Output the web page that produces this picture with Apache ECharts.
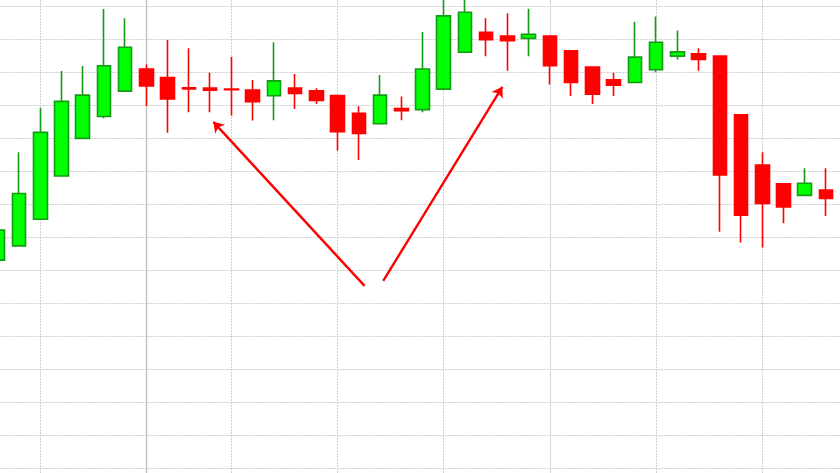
<!DOCTYPE html>
<html>
<head>
<meta charset="utf-8">
<script src="https://cdn.jsdelivr.net/npm/echarts@6/dist/echarts.min.js"></script>
<style>html,body{margin:0;padding:0;background:#fff}#c{width:840px;height:473px}</style>
</head>
<body>
<div id="c"></div>
<script>
// Categories (trading days; the last one is an empty slot at the right edge)
const categories = ['1','2','3','4','5','6','7','8','9','10','11','12','13','14','15','16','17','18','19','20',
  '21','22','23','24','25','26','27','28','29','30','31','32','33','34','35','36','37','38','39','40','41'];

// OHLC values
const openVals  = [63.0, 67.3, 75.4, 88.5, 99.9, 106.5, 114.2, 120.9, 118.3, 115.2, 115.1, 114.8, 114.5, 112.8, 115.1, 114.3, 112.9, 107.5, 104.3, 108.9,
                   108.6, 114.8, 126.0, 132.0, 130.9, 130.2, 130.9, 126.4, 121.5, 117.6, 116.8, 120.7, 124.8, 125.5, 124.8, 107.0, 91.8, 86.1, 82.6, 84.2];
const closeVals = [72.1, 83.2, 101.7, 111.1, 113.0, 121.9, 127.5, 115.8, 111.8, 114.9, 114.5, 114.6, 111.0, 117.3, 113.5, 111.4, 101.9, 101.4, 113.0, 108.3,
                   120.9, 137.0, 138.1, 129.8, 129.5, 131.4, 121.9, 116.8, 113.3, 116.0, 124.5, 129.0, 126.1, 123.8, 88.8, 76.6, 80.2, 79.1, 86.3, 81.7];
const lowVals   = [62.4, 67.3, 75.4, 88.5, 99.9, 106.0, 114.2, 109.7, 101.6, 107.8, 107.8, 106.8, 105.3, 105.4, 108.8, 110.3, 96.2, 93.3, 104.3, 105.4,
                   107.8, 114.8, 126.0, 124.8, 120.4, 124.8, 116.2, 112.7, 110.3, 112.7, 116.8, 119.9, 123.8, 120.4, 71.6, 68.3, 66.8, 74.2, 82.6, 76.4];
const highVals  = [73.3, 95.7, 109.2, 120.3, 121.8, 139.1, 136.3, 122.3, 129.7, 127.2, 119.8, 124.6, 117.6, 129.0, 119.4, 115.1, 112.9, 109.6, 119.1, 112.6,
                   132.1, 143.3, 143.3, 136.3, 137.8, 139.2, 130.9, 126.4, 121.5, 119.8, 135.2, 136.8, 132.6, 127.2, 124.8, 107.0, 95.7, 86.1, 90.8, 90.8];

// Vertical grid lines: week starts (dashed) and month starts (solid)
const weekStarts  = [2, 11, 16, 21, 31, 36];
const monthStarts = [7, 26];

// Annotation arrows in data space [category index, price]
const arrows = [
  [[17.27, 55.2], [10.15, 104.9]],
  [[18.15, 56.7], [23.76, 115.5]]
];

const ohlc = openVals.map((o, i) => [o, closeVals[i], lowVals[i], highVals[i]]);

const chart = echarts.init(document.getElementById('c'), null, {renderer: 'canvas'});
const hidden = {axisLine: {show: false}, axisTick: {show: false}, axisLabel: {show: false}};
chart.setOption({
  animation: false,
  backgroundColor: '#ffffff',
  grid: {left: -2.2, right: -7.2, top: -27, bottom: -28, containLabel: false, outerBoundsMode: 'none'},
  xAxis: [
    Object.assign({type: 'category', data: categories, boundaryGap: false,
      splitLine: {show: true, interval: (i) => weekStarts.includes(i),
        lineStyle: {color: '#cfcfcf', type: [2, 1], width: 1}}}, hidden),
    Object.assign({type: 'category', data: categories, boundaryGap: false,
      splitLine: {show: true, interval: (i) => monthStarts.includes(i),
        lineStyle: {color: ['#bdbdbd', '#dddddd'], type: 'solid', width: 1.3}}}, hidden),
    Object.assign({type: 'value', min: 0, max: categories.length - 1, splitLine: {show: false}}, hidden)
  ],
  yAxis: Object.assign({type: 'value', min: -10, max: 150, interval: 10, scale: false,
    splitLine: {show: true, lineStyle: {color: '#cfcfcf', type: [2, 1], width: 1}}}, hidden),
  series: [
    {
      type: 'candlestick',
      xAxisIndex: 0,
      data: ohlc,
      barWidth: 14,
      clip: false,
      itemStyle: {
        color: '#00ff00', color0: '#ff0000',
        borderColor: '#149a14', borderColor0: '#ff0000',
        borderWidth: 1.6
      }
    },
    {
      type: 'lines',
      coordinateSystem: 'cartesian2d',
      xAxisIndex: 2,
      yAxisIndex: 0,
      symbol: ['none', 'arrow'],
      symbolSize: [7, 10],
      lineStyle: {color: '#ff0000', width: 2.4, opacity: 1},
      data: arrows.map(a => ({coords: a}))
    }
  ]
});
</script>
</body>
</html>
